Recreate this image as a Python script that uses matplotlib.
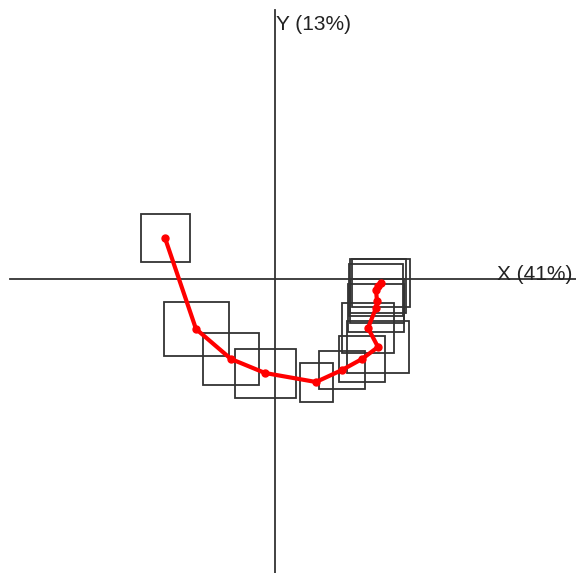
import matplotlib
matplotlib.use('Agg')
from matplotlib import pyplot as plt
from matplotlib.patches import Rectangle

# trajectory points (centre of each box), in plot units
xs = [-1.09, -0.78, -0.43, -0.09, 0.42, 0.68, 0.88, 1.04, 0.94, 1.02, 1.03, 1.02, 1.04, 1.07]
ys = [0.41, -0.50, -0.80, -0.94, -1.03, -0.91, -0.80, -0.68, -0.49, -0.29, -0.22, -0.11, -0.07, -0.04]
# half width / half height of the box around each point
half_w = [0.245, 0.325, 0.28, 0.305, 0.165, 0.23, 0.23, 0.31, 0.26, 0.28, 0.27, 0.27, 0.28, 0.29]
half_h = [0.24, 0.27, 0.26, 0.245, 0.195, 0.19, 0.23, 0.26, 0.25, 0.24, 0.22, 0.26, 0.27, 0.24]

x_label = "X (41%)"
y_label = "Y (13%)"


def main():
    fig = plt.figure(figsize=(5.76, 5.73), dpi=100)
    ax = fig.add_axes([0, 0, 1, 1])
    ax.set_xlim(-2.74, 3.02)
    ax.set_ylim(-2.94, 2.79)
    ax.axis('off')

    # axis cross
    ax.plot([-2.64, 3.02], [0, 0], color='#333333', lw=1.3)
    ax.plot([0.01, 0.01], [2.69, -2.94], color='#333333', lw=1.3)

    for x, y, w, h in zip(xs, ys, half_w, half_h):
        ax.add_patch(Rectangle((x - w, y - h), 2 * w, 2 * h, fill=False,
                               edgecolor='#333333', lw=1.3, zorder=2))

    ax.plot(xs, ys, '-o', color='#ff0000', lw=3, markersize=5, zorder=3)

    ax.text(0.02, 2.49, y_label, fontsize=15, family='Liberation Sans', va='baseline', color='#222222')
    ax.text(2.23, -0.01, x_label, fontsize=15, family='Liberation Sans', va='baseline', color='#222222')

    plt.savefig('out.png', dpi=100)


if __name__ == '__main__':
    main()
